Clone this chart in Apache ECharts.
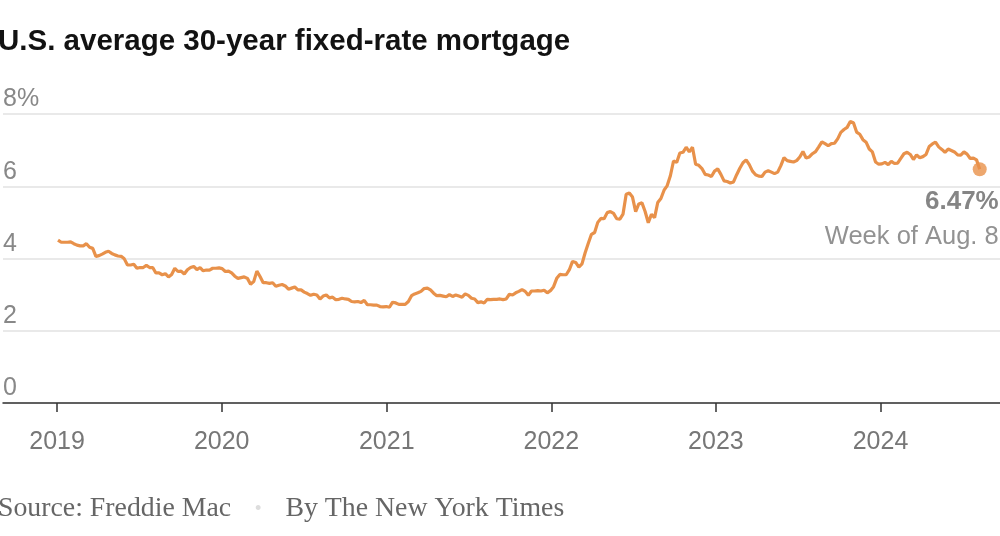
<!DOCTYPE html>
<html>
<head>
<meta charset="utf-8">
<script src="https://cdn.jsdelivr.net/npm/echarts@6/dist/echarts.min.js"></script>
<style>
html,body{margin:0;padding:0;background:#fff;}
#chart{width:1000px;height:536px;}
</style>
</head>
<body>
<div id="chart"></div>
<script>
// Weekly Freddie Mac PMMS 30-year fixed rate, first week = Jan. 3, 2019
const firstWeek = '2019-01-03';
const rates2019 = [4.51,4.45,4.45,4.45,4.46,4.41,4.37,4.35,4.35,4.41,4.31,4.28,4.06,4.08,4.12,4.17,4.20,4.14,4.10,4.07,4.06,3.99,3.82,3.82,3.84,3.73,3.75,3.75,3.81,3.75,3.75,3.60,3.60,3.55,3.58,3.49,3.56,3.73,3.64,3.65,3.57,3.69,3.75,3.78,3.69,3.75,3.66,3.68,3.68,3.73,3.73,3.74];
const rates2020 = [3.72,3.64,3.65,3.60,3.51,3.45,3.47,3.49,3.45,3.29,3.36,3.65,3.50,3.33,3.33,3.31,3.33,3.23,3.26,3.28,3.24,3.15,3.18,3.21,3.13,3.13,3.07,3.03,2.98,3.01,2.99,2.88,2.96,2.99,2.91,2.93,2.86,2.87,2.90,2.88,2.87,2.81,2.80,2.81,2.78,2.84,2.72,2.72,2.71,2.71,2.67,2.66,2.67];
const rates2021 = [2.65,2.79,2.77,2.73,2.73,2.73,2.81,2.97,3.02,3.05,3.09,3.17,3.18,3.13,3.04,2.97,2.98,2.96,2.94,3.00,2.95,2.99,2.96,2.93,3.02,2.98,2.90,2.88,2.78,2.80,2.77,2.87,2.86,2.87,2.87,2.88,2.86,2.88,3.01,2.99,3.05,3.09,3.14,3.09,2.98,3.10,3.10,3.11,3.10,3.12,3.05,3.11];
const rates2022 = [3.22,3.45,3.56,3.55,3.55,3.69,3.92,3.89,3.76,3.85,4.16,4.42,4.67,4.72,5.00,5.11,5.10,5.27,5.30,5.25,5.10,5.09,5.23,5.78,5.81,5.70,5.30,5.51,5.54,5.30,4.99,5.22,5.13,5.55,5.66,5.89,6.02,6.29,6.70,6.66,6.92,6.94,7.08,6.95,7.08,6.61,6.58,6.49,6.33,6.31,6.27,6.42];
const rates2023 = [6.48,6.33,6.15,6.13,6.09,6.12,6.32,6.50,6.65,6.73,6.60,6.42,6.32,6.28,6.27,6.39,6.43,6.39,6.35,6.39,6.57,6.79,6.71,6.69,6.67,6.71,6.81,6.96,6.78,6.81,6.90,6.96,7.09,7.23,7.18,7.12,7.18,7.19,7.31,7.49,7.57,7.63,7.79,7.76,7.50,7.44,7.29,7.22,7.03,6.95,6.67,6.61];
const rates2024 = [6.62,6.66,6.60,6.69,6.63,6.64,6.77,6.90,6.94,6.88,6.74,6.87,6.79,6.82,6.88,7.10,7.17,7.22,7.09,7.02,6.94,7.03,6.99,6.95,6.87,6.86,6.95,6.89,6.77,6.78,6.73,6.47];
const yearTicks = ['2019','2020','2021','2022','2023','2024'];
const latestLabel = 'Week of Aug. 8';
const titleText = 'U.S. average 30-year fixed-rate mortgage';
const sourceText = 'Source: Freddie Mac';
const creditText = 'By The New York Times';

const allRates = [].concat(rates2019, rates2020, rates2021, rates2022, rates2023, rates2024);
const DAY = 86400000;
const t0 = Date.parse(firstWeek + 'T00:00:00Z');
const seriesData = allRates.map((v, i) => [t0 + i * 7 * DAY, v]);
const last = seriesData[seriesData.length - 1];
const yearStarts = yearTicks.map(y => Date.parse(y + '-01-01T00:00:00Z'));

const ORANGE = '#E8914A';
const chart = echarts.init(document.getElementById('chart'), null, {renderer: 'canvas'});
chart.setOption({
  animation: false,
  backgroundColor: '#fff',
  title: [{
    text: titleText,
    left: -2, top: 27, padding: 0,
    textStyle: {fontFamily: '"Liberation Sans", sans-serif', fontWeight: 'bold', fontSize: 29.5, color: '#121212'}
  }, {
    text: '{a|' + sourceText + '}{d|•}{a|' + creditText + '}',
    left: -2, top: 495, padding: 0,
    textStyle: {
      fontWeight: 'normal',
      rich: {
        a: {fontFamily: '"Liberation Serif", serif', fontWeight: 'normal', fontSize: 27.8, color: '#666'},
        d: {fontFamily: '"Liberation Sans", sans-serif', fontWeight: 'normal', fontSize: 18, color: '#ddd', padding: [0, 24, 0, 24]}
      }
    }
  }],
  grid: {left: 0, right: 0, top: 114, bottom: 133, containLabel: false},
  xAxis: {
    type: 'value',
    min: Date.parse('2018-09-03T00:00:00Z'),
    max: Date.parse('2024-09-22T00:00:00Z'),
    axisLine: {show: true, lineStyle: {color: '#333', width: 1.5}},
    axisTick: {show: true, length: 9, lineStyle: {color: '#333', width: 1.5},
      customValues: yearStarts},
    axisLabel: {
      customValues: yearStarts,
      margin: 27,
      fontFamily: '"Liberation Sans", sans-serif', fontSize: 25, color: '#777',
      formatter: v => String(new Date(v + 2 * DAY).getUTCFullYear())
    },
    splitLine: {show: false}
  },
  yAxis: {
    type: 'value', min: 0, max: 8, interval: 2,
    axisLine: {show: false}, axisTick: {show: false},
    splitLine: {show: true, lineStyle: {color: '#e2e2e2', width: 1.5}},
    axisLabel: {
      inside: true, margin: 0, align: 'left', verticalAlign: 'bottom',
      padding: [0, 0, 2, 0],
      fontFamily: '"Liberation Sans", sans-serif', fontSize: 25, color: '#888',
      formatter: v => v === 8 ? v + '%' : String(v)
    }
  },
  series: [{
    type: 'line',
    data: seriesData,
    showSymbol: false,
    lineStyle: {color: ORANGE, width: 3.2},
    itemStyle: {color: ORANGE},
    z: 3
  }, {
    type: 'scatter',
    data: [last],
    symbolSize: 14,
    itemStyle: {color: ORANGE},
    z: 4,
    label: {
      show: true,
      position: [26, 22],
      align: 'right', verticalAlign: 'top',
      formatter: p => '{b|' + p.value[1].toFixed(2) + '%}\n{r|' + latestLabel + '}',
      rich: {
        b: {fontFamily: '"Liberation Sans", sans-serif', fontWeight: 'bold', fontSize: 26, color: '#666', lineHeight: 35, align: 'right'},
        r: {fontFamily: '"Liberation Sans", sans-serif', fontSize: 25.5, color: '#777', lineHeight: 35, align: 'right'}
      }
    }
  }]
});
</script>
</body>
</html>
